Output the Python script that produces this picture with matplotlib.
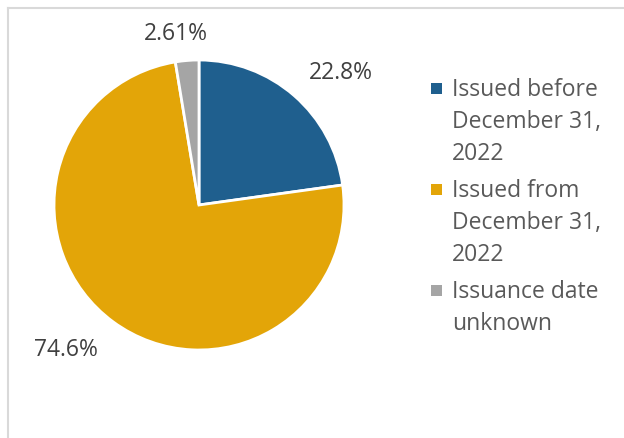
import numpy as np
import matplotlib.pyplot as plt
from matplotlib.patches import Rectangle
from matplotlib.lines import Line2D

labels = ["Issued before\nDecember 31,\n2022", "Issued from\nDecember 31,\n2022", "Issuance date\nunknown"]
values = [22.8, 74.6, 2.61]
pct_text = ["22.8%", "74.6%", "2.61%"]
colors = ["#1F5F8E", "#E3A508", "#A5A5A5"]

# where the percent labels sit (pie data units, radius = 1)
label_xy = [(0.979, 0.910), (-0.921, -0.997), (-0.162, 1.176)]

plt.rcParams['font.family'] = ['Open Sans', 'DejaVu Sans']

W, H = 624, 438
fig = plt.figure(figsize=(W / 100, H / 100), dpi=100)
ax = fig.add_axes([54 / W, (H - 350) / H, 290 / W, 290 / H])

wedges, _ = ax.pie(values, colors=colors, startangle=90, counterclock=False,
                   wedgeprops=dict(edgecolor='white', linewidth=2))
ax.set_xlim(-1, 1)
ax.set_ylim(-1, 1)
ax.set_aspect('equal')

for (x, y), t in zip(label_xy, pct_text):
    ax.text(x, y, t, ha='center', va='center', fontsize=16.5, color='#404040')

# legend drawn by hand so the marker sits on the first line of each entry
for i, (lab, c) in enumerate(zip(labels, colors)):
    top = 96 + 101 * i
    fig.add_artist(Rectangle((430.5 / W, 1 - (top - 2) / H), 11 / W, 11 / H,
                             transform=fig.transFigure, facecolor=c, edgecolor='none'))
    for j, line in enumerate(lab.split("\n")):
        fig.text(452 / W, 1 - (top + 32 * j) / H, line, ha='left', va='baseline',
                 fontsize=16.5, color='#595959')

# light border around the chart area
fig.add_artist(Line2D([8 / W, 1], [1 - 8 / H, 1 - 8 / H], color='#D9D9D9', lw=1.5))
fig.add_artist(Line2D([8 / W, 8 / W], [0, 1 - 8 / H], color='#D9D9D9', lw=1.5))

fig.savefig("out.png", dpi=100)
